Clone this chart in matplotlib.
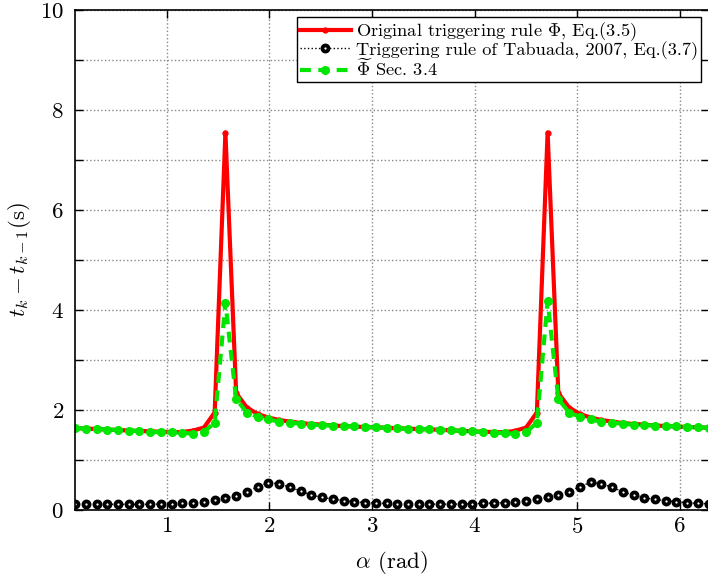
import numpy as np
import matplotlib
matplotlib.use("Agg")
import matplotlib.pyplot as plt
from matplotlib.ticker import MultipleLocator, FixedLocator

plt.rcParams['font.family'] = 'serif'
plt.rcParams['font.serif'] = ['cmr10', 'DejaVu Serif']
plt.rcParams['mathtext.fontset'] = 'cm'
plt.rcParams['axes.formatter.use_mathtext'] = True

# sample index k, alpha = k*pi/30
k = np.arange(1, 61)
alpha = k * np.pi / 30

# original triggering rule (red)
t_orig = [1.64, 1.63, 1.62, 1.61, 1.60, 1.59, 1.58, 1.575, 1.565, 1.56,
          1.56, 1.59, 1.65, 1.95, 7.55, 2.34, 2.05, 1.92, 1.85, 1.80,
          1.77, 1.74, 1.72, 1.71, 1.69, 1.68, 1.67, 1.66, 1.655, 1.645,
          1.635, 1.627, 1.62, 1.613, 1.605, 1.595, 1.585, 1.575, 1.565, 1.56,
          1.555, 1.585, 1.65, 1.95, 7.55, 2.34, 2.05, 1.92, 1.85, 1.80,
          1.77, 1.74, 1.72, 1.71, 1.69, 1.68, 1.67, 1.66, 1.655, 1.645]

# Tabuada 2007 rule (black)
t_tab = [0.12, 0.115, 0.115, 0.115, 0.115, 0.115, 0.115, 0.115, 0.12, 0.13,
         0.135, 0.147, 0.167, 0.20, 0.233, 0.287, 0.36, 0.467, 0.547, 0.527,
         0.453, 0.38, 0.30, 0.253, 0.22, 0.19, 0.167, 0.15, 0.14, 0.133,
         0.127, 0.12, 0.118, 0.118, 0.118, 0.118, 0.12, 0.127, 0.133, 0.14,
         0.147, 0.16, 0.187, 0.22, 0.253, 0.30, 0.367, 0.467, 0.553, 0.527,
         0.453, 0.367, 0.293, 0.24, 0.213, 0.187, 0.167, 0.147, 0.133, 0.125]

# approximated rule, Sec. 3.4 (green)
t_approx = [1.64, 1.63, 1.62, 1.61, 1.60, 1.59, 1.58, 1.567, 1.553, 1.553,
            1.547, 1.527, 1.56, 1.75, 4.15, 2.22, 1.95, 1.867, 1.813, 1.767,
            1.747, 1.727, 1.707, 1.70, 1.687, 1.68, 1.673, 1.66, 1.653, 1.647,
            1.633, 1.627, 1.62, 1.613, 1.607, 1.593, 1.587, 1.573, 1.56, 1.547,
            1.54, 1.52, 1.553, 1.747, 4.18, 2.22, 1.95, 1.867, 1.813, 1.767,
            1.747, 1.727, 1.707, 1.70, 1.687, 1.68, 1.673, 1.66, 1.653, 1.647]

fig = plt.figure(figsize=(7.08, 5.78), dpi=100)
ax = fig.add_axes([0.106, 0.1176, 0.895, 0.865])

ax.plot(alpha, t_orig, color='red', linestyle='-', linewidth=3,
        marker='.', markersize=7,
        label=r'Original triggering rule $\Phi$, Eq.(3.5)')
ax.plot(alpha, t_tab, color='black', linestyle=':', linewidth=1,
        marker='o', markersize=4.4, markerfacecolor='white',
        markeredgecolor='black', markeredgewidth=2.7,
        label='Triggering rule of Tabuada, 2007, Eq.(3.7)')
ax.plot(alpha, t_approx, color='#00e600', linestyle=(0, (2.6, 1.8)), linewidth=3,
        marker='.', markersize=11,
        label=r'$\widetilde{\Phi}$ Sec. 3.4')

ax.set_xlim(np.pi / 30, 2 * np.pi)
ax.set_ylim(0, 10)
ax.xaxis.set_major_locator(FixedLocator([1, 2, 3, 4, 5, 6]))
ax.yaxis.set_major_locator(MultipleLocator(2))
ax.yaxis.set_minor_locator(FixedLocator([1, 3, 5, 7, 9]))

ax.grid(True, which='both', linestyle=':', color='#888888', linewidth=1)
ax.tick_params(which='both', direction='in', top=True, right=True,
               length=6, width=1, labelsize=16.5)
ax.tick_params(axis='x', pad=5)
ax.tick_params(axis='y', pad=8)
for s in ax.spines.values():
    s.set_linewidth(1.2)

ax.set_xlabel(r'$\alpha$ (rad)', fontsize=16.5, labelpad=9)
ax.set_ylabel(r'$t_k - t_{k-1}$(s)', fontsize=16.5, labelpad=5)

leg = ax.legend(loc='upper right', fontsize=13.2, fancybox=False,
                edgecolor='black', framealpha=1, borderpad=0.15,
                labelspacing=-0.1, handlelength=2.8, handletextpad=0.3,
                borderaxespad=0.4)
leg.get_frame().set_linewidth(1)

fig.savefig('out.png', dpi=100)
